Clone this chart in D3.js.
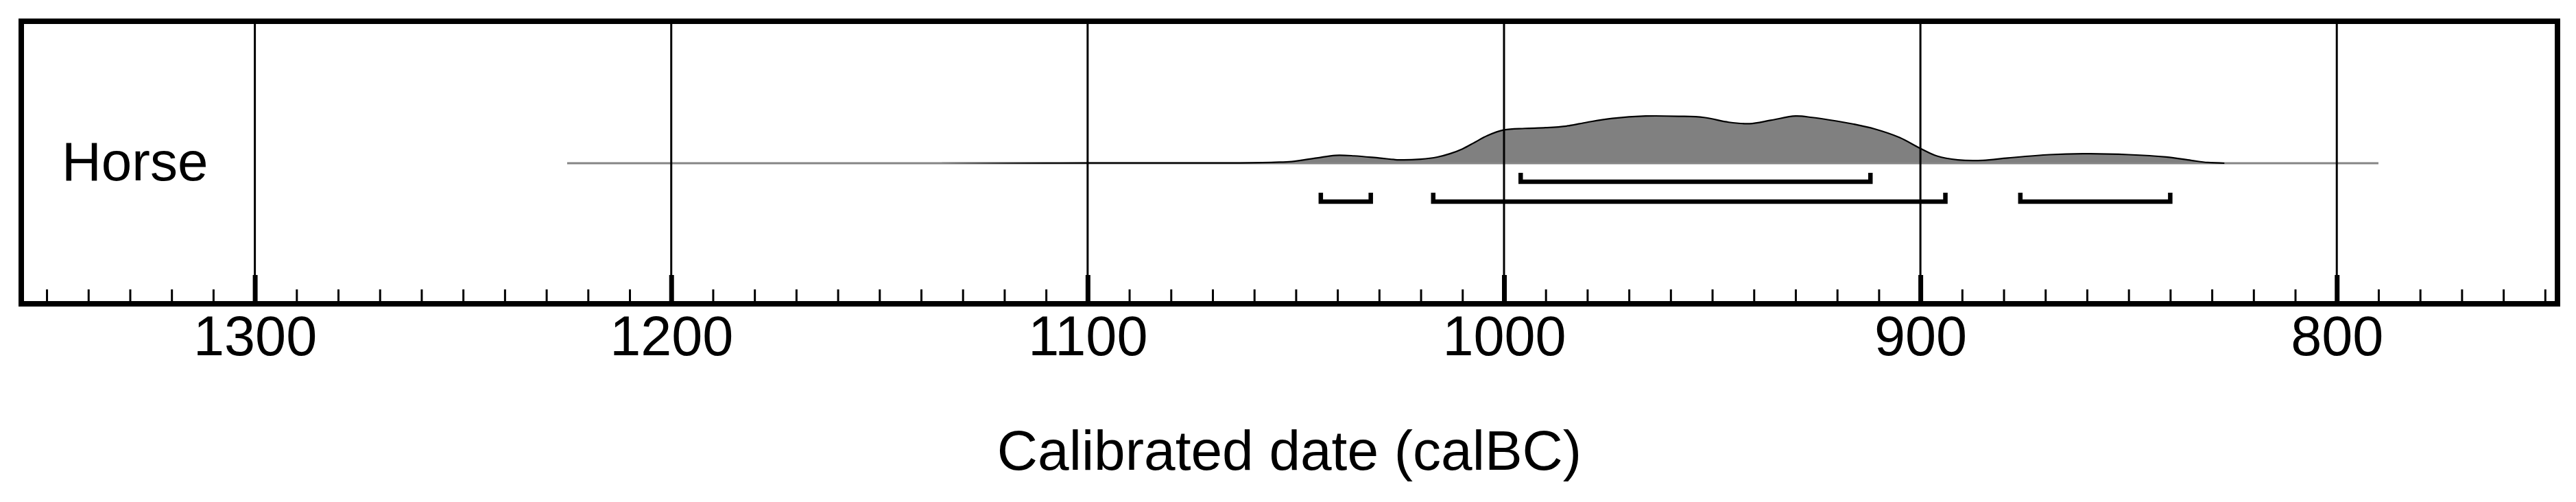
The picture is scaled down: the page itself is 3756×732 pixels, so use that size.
<!DOCTYPE html>
<html>
<head>
<meta charset="utf-8">
<script src="https://cdn.jsdelivr.net/npm/d3@7"></script>
<style>
  body { margin: 0; background: #fff; }
  text { font-family: "Liberation Sans", Arial, Helvetica, sans-serif; fill: #000; }
</style>
</head>
<body>
<script>
// calibrated probability distribution (calBC), relative to the peak
var years = [1135, 1120, 1100, 1080, 1065, 1055, 1051, 1045, 1040.5, 1036, 1030, 1025, 1020, 1016, 1013, 1010,
  1007, 1004, 1000, 995, 990, 985, 980, 974, 966, 958, 952, 946, 941, 936, 930, 926, 922, 916, 911,
  905, 900, 896, 891, 885, 879, 869, 861, 850, 841, 835, 831, 827];
var prob = [0.002, 0.003, 0.004, 0.005, 0.006, 0.02, 0.035, 0.11, 0.165, 0.155, 0.11, 0.07, 0.085, 0.13, 0.2, 0.3,
  0.44, 0.58, 0.7, 0.73, 0.745, 0.78, 0.86, 0.94, 0.99, 0.985, 0.96, 0.86, 0.83, 0.9, 0.99, 0.96, 0.91, 0.82, 0.72,
  0.54, 0.31, 0.15, 0.07, 0.06, 0.11, 0.18, 0.2, 0.18, 0.13, 0.06, 0.015, 0];
var tailRange = [1225, 790];          // extent of the thin baseline
// 68.2% and 95.4% ranges
var range68 = [[996, 912]];
var range95 = [[1044, 1032], [1017, 894], [876, 840]];
var majorTicks = [1300, 1200, 1100, 1000, 900, 800];
var minorTicks = d3.range(750, 1360, 10);
var label = "Horse";
var axisTitle = "Calibrated date (calBC)";

var width = 3756, height = 732;
var box = { left: 31, right: 3729, top: 31, bottom: 443 };
var baseY = 238;

var svg = d3.select("body").append("svg")
  .attr("width", width)
  .attr("height", height);

var x = d3.scaleLinear()
  .domain([1356.1, 747])
  .range([box.left, box.right]);

var y = d3.scaleLinear()
  .domain([0, 1])
  .range([baseY, baseY - 69.5]);

var dist = years.map(function(d, i) { return { year: d, p: prob[i] }; });

// outline fades in from grey at the low-probability tails
var grad = svg.append("defs").append("linearGradient")
  .attr("id", "outline")
  .attr("gradientUnits", "userSpaceOnUse")
  .attr("x1", x(1135)).attr("x2", x(827))
  .attr("y1", 0).attr("y2", 0);
grad.append("stop").attr("offset", 0).attr("stop-color", "#858585");
grad.append("stop").attr("offset", (x(1110) - x(1135)) / (x(827) - x(1135))).attr("stop-color", "#000");
grad.append("stop").attr("offset", 1).attr("stop-color", "#000");

// filled distribution
var area = d3.area()
  .x(function(d) { return x(d.year); })
  .y0(baseY)
  .y1(function(d) { return y(d.p); })
  .curve(d3.curveCatmullRom);

svg.append("path")
  .datum(dist)
  .attr("d", area)
  .attr("fill", "#808080");

// baseline across the whole calibrated span
svg.append("line")
  .attr("x1", x(tailRange[0]))
  .attr("x2", x(tailRange[1]))
  .attr("y1", baseY)
  .attr("y2", baseY)
  .attr("stroke", "#858585")
  .attr("stroke-width", 3);

var line = d3.line()
  .x(function(d) { return x(d.year); })
  .y(function(d) { return y(d.p); })
  .curve(d3.curveCatmullRom);

svg.append("path")
  .datum(dist)
  .attr("d", line)
  .attr("fill", "none")
  .attr("stroke", "url(#outline)")
  .attr("stroke-width", 2.2);

// range brackets
function bracket(r, rowY) {
  return "M" + x(r[0]) + "," + (rowY - 13) + "V" + rowY + "H" + x(r[1]) + "V" + (rowY - 13);
}
svg.selectAll(".r68")
  .data(range68)
  .enter()
  .append("path")
    .attr("d", function(d) { return bracket(d, 265); })
    .attr("fill", "none")
    .attr("stroke", "#000")
    .attr("stroke-width", 6.5);

svg.selectAll(".r95")
  .data(range95)
  .enter()
  .append("path")
    .attr("d", function(d) { return bracket(d, 294); })
    .attr("fill", "none")
    .attr("stroke", "#000")
    .attr("stroke-width", 6.5);

// vertical grid at the century marks
svg.selectAll(".grid")
  .data(majorTicks)
  .enter()
  .append("line")
    .attr("x1", function(d) { return x(d); })
    .attr("x2", function(d) { return x(d); })
    .attr("y1", box.top)
    .attr("y2", box.bottom)
    .attr("stroke", "#000")
    .attr("stroke-width", 3);

// axis: minor and major ticks
var minorAxis = d3.axisBottom(x).tickValues(minorTicks).tickSize(-21).tickFormat("");
var gMinor = svg.append("g")
  .attr("transform", "translate(0," + box.bottom + ")")
  .call(minorAxis);
gMinor.select(".domain").remove();
gMinor.selectAll(".tick line").attr("stroke", "#000").attr("stroke-width", 3);

var majorAxis = d3.axisBottom(x).tickValues(majorTicks).tickSize(-42).tickFormat(d3.format("d"));
var gMajor = svg.append("g")
  .attr("transform", "translate(0," + box.bottom + ")")
  .call(majorAxis);
gMajor.select(".domain").remove();
gMajor.selectAll(".tick line").attr("stroke", "#000").attr("stroke-width", 7);
gMajor.selectAll(".tick text")
  .attr("y", 75)
  .attr("dy", null)
  .style("font-size", "81px")
  .style("font-family", "'Liberation Sans', Arial, Helvetica, sans-serif")
  .attr("fill", "#000");

// frame
svg.append("rect")
  .attr("x", box.left)
  .attr("y", box.top)
  .attr("width", box.right - box.left)
  .attr("height", box.bottom - box.top)
  .attr("fill", "none")
  .attr("stroke", "#000")
  .attr("stroke-width", 8);

svg.append("text")
  .attr("x", 90)
  .attr("y", 263)
  .style("font-size", "80px")
  .text(label);

svg.append("text")
  .attr("x", (box.left + box.right) / 2)
  .attr("y", 685)
  .attr("text-anchor", "middle")
  .style("font-size", "82px")
  .text(axisTitle);
</script>
</body>
</html>
